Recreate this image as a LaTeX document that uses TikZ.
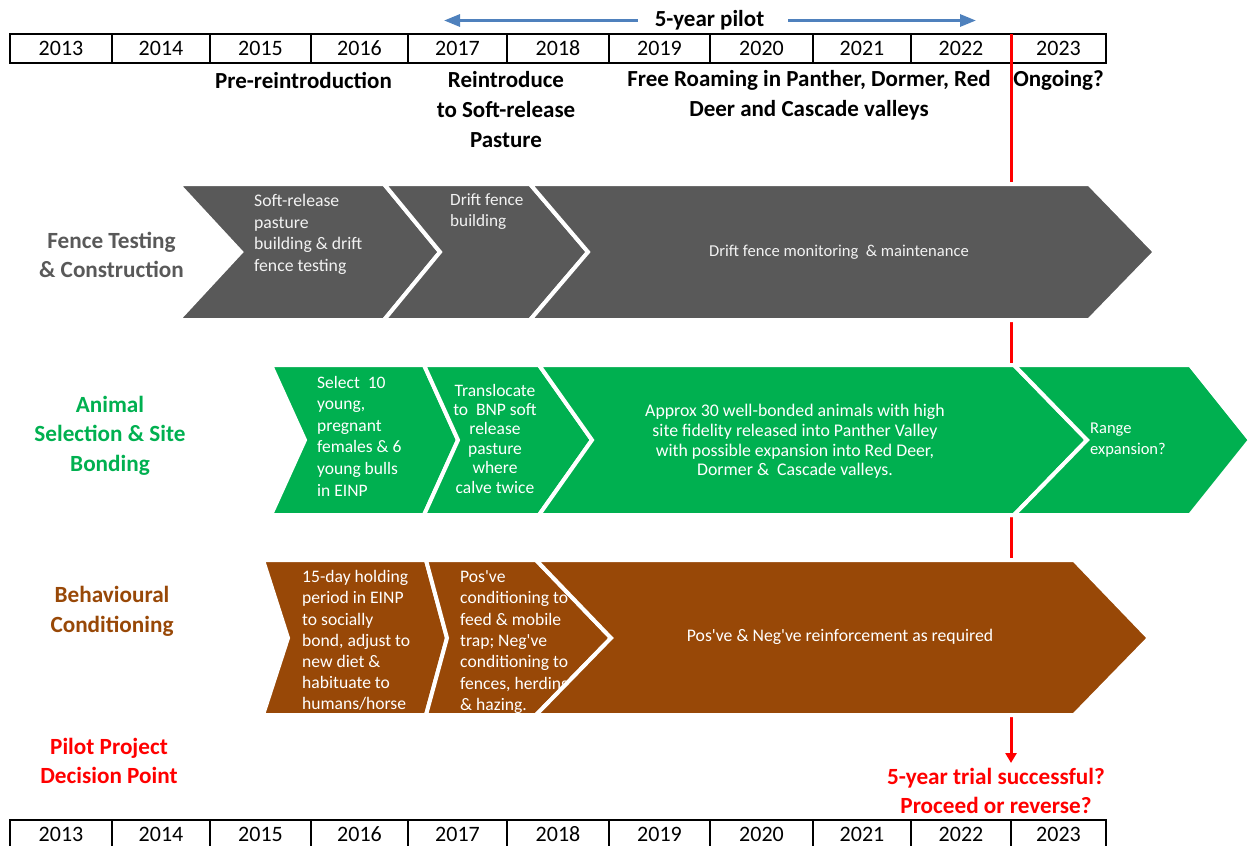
\documentclass[tikz,border=0pt]{standalone}
\usepackage{fontspec}
\setmainfont{Carlito}
\usetikzlibrary{arrows.meta}
\definecolor{cgray}{HTML}{595959}
\definecolor{cgreen}{HTML}{00B050}
\definecolor{cbrown}{HTML}{984807}
\definecolor{cblue}{HTML}{4F81BD}
\definecolor{cred}{HTML}{FF0000}
\definecolor{ctxt}{HTML}{F2F2F2}
\newcommand\fsz[2]{\fontsize{#1}{#2}\selectfont}
\newcommand\ap{\textquotesingle}
\newcommand\chevron[8]{\draw[chev, fill=#1] (#2,#6) -- (#4,#6) -- (#5,#7) -- (#4,#8) -- (#2,#8) -- (#3,#7) -- cycle;}
\begin{document}
\begin{tikzpicture}[x=1pt,y=-1pt,
 yearcell/.style={draw=black,line width=2pt,inner sep=0pt,minimum height=29pt,font=\fsz{22}{25}},
 hdr/.style={font=\fsz{23}{30}\bfseries,inner sep=0pt,align=center},
 lbl/.style={font=\fsz{23.2}{29.5}\bfseries,inner sep=0pt,align=center},
 chev/.style={draw=white,line width=4pt,line join=miter},
 ctl/.style={text=white,inner sep=0pt,align=left,anchor=west},
 ctc/.style={text=white,inner sep=0pt,align=center},
 bluearrow/.style={draw=cblue,line width=3pt,-{Triangle[length=16pt,width=12pt]}},
 redarrow/.style={draw=cred,line width=3pt,-{Triangle[length=10pt,width=11pt]}}]
\useasboundingbox (0,0) rectangle (1248,846);
\clip (0,0) rectangle (1248,846);
% year bars
\foreach \l/\r/\yr [count=\i] in {10/112/2013,112/210/2014,210/311/2015,311/408/2016,408/507/2017,507/609/2018,609/710/2019,710/813/2020,813/911/2021,911/1011/2022,1011/1106/2023}{
 \node[yearcell,minimum width={\r-\l}] (top\i) at ({(\l+\r)/2},48.5) {\yr};
 \node[yearcell,minimum width={\r-\l}] (bot\i) at ({(\l+\r)/2},834.5) {\yr};
}
% pilot arrows
\node[font=\fsz{23}{26}\bfseries,inner sep=0pt] (pilot) at (709.5,20.5) {5-year pilot};
\coordinate (pl) at (444,20.5);
\coordinate (pr) at (976,20.5);
\draw[bluearrow] ([xshift=-17pt]pilot.west) -- (pl);
\draw[bluearrow] ([xshift=24pt]pilot.east) -- (pr);
% headers
\node[hdr] (h1) at (303.5,80) {Pre-reintroduction};
\node[hdr] (h2) at (506,110) {Reintroduce\\to Soft-release\\Pasture};
\node[hdr] (h3) at (809,95) {Free Roaming in Panther, Dormer, Red\\Deer and Cascade valleys};
\node[hdr] (h4) at (1058.5,80) {Ongoing?};
% red decision line
\coordinate (rtop) at (1011,34);
\coordinate (rend) at (1011,763);
\draw[redarrow] (rtop) -- (rend);
% row labels
\node[lbl,text=cgray] (l1) at (111.5,255) {Fence Testing\\\& Construction};
\node[lbl,text=cgreen] (l2) at (110,435.5) {Animal\\Selection \& Site\\Bonding};
\node[lbl,text=cbrown] (l3) at (112,611.3) {Behavioural\\Conditioning};
\node[lbl,text=cred] (l4) at (109,761) {Pilot Project\\Decision Point};
\node[lbl,text=cred] (dec) at (996,791) {5-year trial successful?\\Proceed or reverse?};
% gray row
\chevron{cgray}{178}{241}{384}{440}{184}{252}{320}
\node[ctl,text=ctxt,font=\fsz{17.7}{21.7}] (g1) at (254,234.5) {Soft-release\\pasture\\building \& drift\\fence testing};
\chevron{cgray}{384}{440}{530}{588}{184}{252}{320}
\node[ctl,text=ctxt,font=\fsz{17.2}{21.5}] (g2) at (450,211.5) {Drift fence\\building};
\chevron{cgray}{530}{588}{1089}{1155}{184}{252}{320}
\node[ctc,text=ctxt,font=\fsz{16.6}{20}] (g3) at (839,252) {Drift fence monitoring~ \& maintenance};
% green row
\chevron{cgreen}{271}{305}{424}{458}{365}{440}{515}
\node[ctl,font=\fsz{17.5}{21.6}] (e1) at (317,436) {Select~ 10\\young,\\pregnant\\females \& 6\\young bulls\\in EINP};
\chevron{cgreen}{424}{458}{539}{592}{365}{440}{515}
\node[ctc,font=\fsz{17.5}{19.4}] (e2) at (495,438.5) {Translocate\\to~ BNP soft\\release\\pasture\\where\\calve twice};
\chevron{cgreen}{539}{592}{1014}{1087}{365}{440}{515}
\node[ctc,font=\fsz{17.8}{19.7}] (e3) at (795,441.5) {Approx 30 well-bonded animals with high\\site fidelity released into Panther Valley\\with possible expansion into Red Deer,\\Dormer \&~ Cascade valleys.};
\chevron{cgreen}{1014}{1087}{1190}{1250}{365}{440}{515}
\node[ctl,font=\fsz{16.5}{20.7}] (e4) at (1090,440) {Range\\expansion?};
% brown row
\chevron{cbrown}{263}{288}{426}{447}{560}{638}{715}
\node[ctl,font=\fsz{17.6}{21.2}] (b1) at (302,640.5) {15-day holding\\period in EINP\\to socially\\bond, adjust to\\new diet \&\\habituate to\\humans/horse};
\chevron{cbrown}{426}{447}{536}{611}{560}{638}{715}
\node[ctl,font=\fsz{17.6}{21.4}] (b2) at (460,642) {Pos\ap ve\\conditioning to\\feed \& mobile\\trap; Neg\ap ve\\conditioning to\\fences, herding\\\& hazing.};
\chevron{cbrown}{536}{611}{1074}{1149}{560}{638}{715}
\node[ctc,font=\fsz{17.7}{20}] (b3) at (840,637) {Pos\ap ve \& Neg\ap ve reinforcement as required};
\end{tikzpicture}
\end{document}
